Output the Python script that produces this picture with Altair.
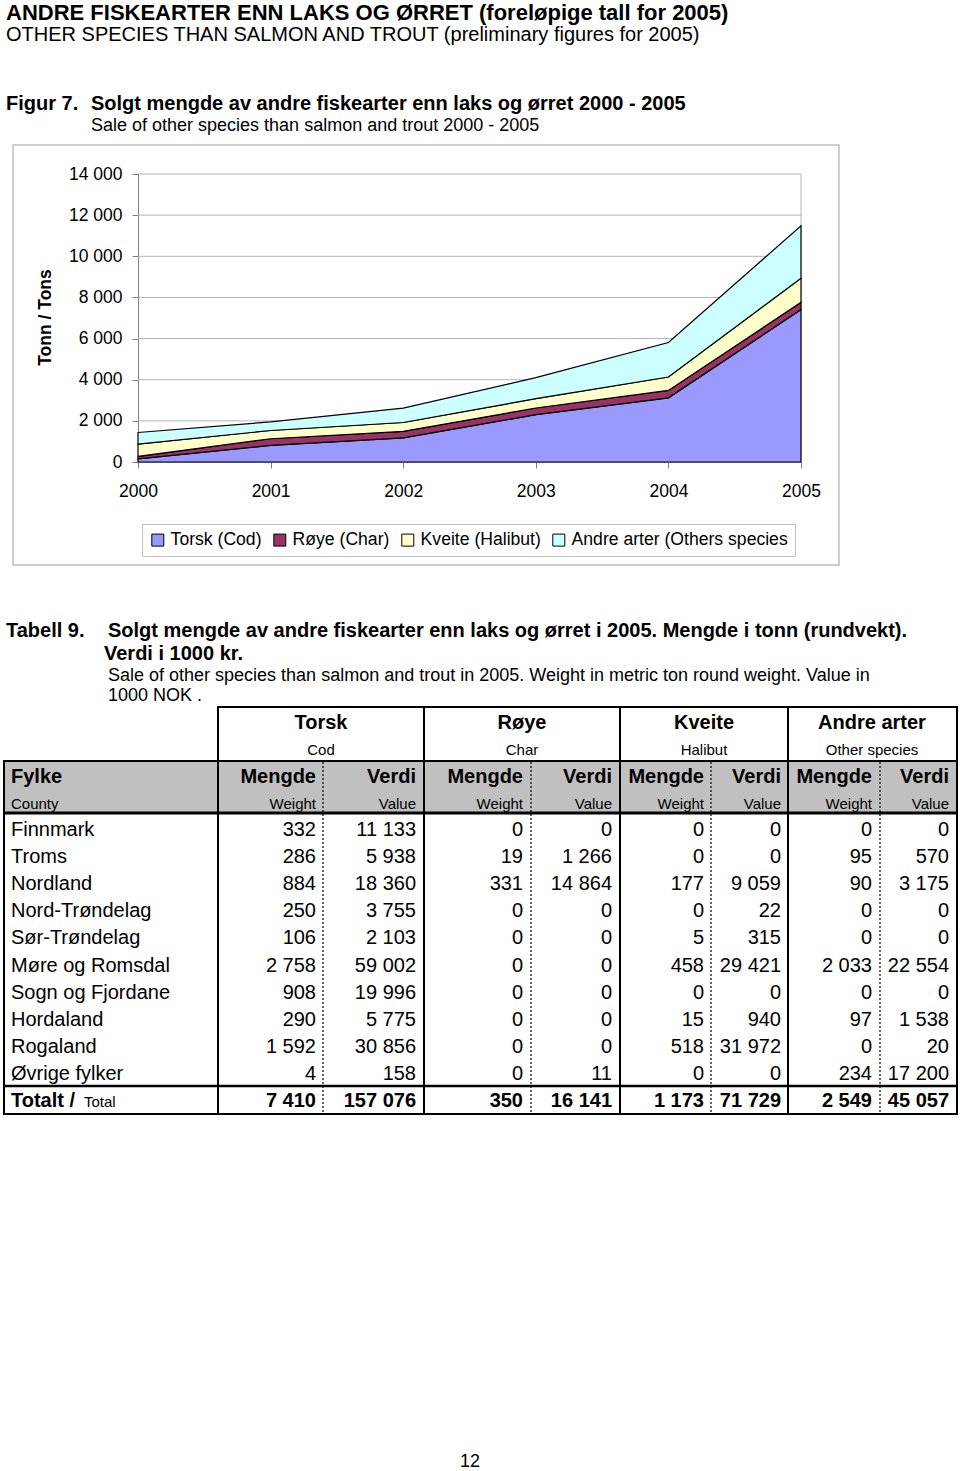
import altair as alt
import pandas as pd

FONT = "Liberation Sans"

# ----- figure data (tonnes) -----
years = [2000, 2001, 2002, 2003, 2004, 2005]
series_names = ["Torsk (Cod)", "Røye (Char)", "Kveite (Halibut)", "Andre arter (Others species"]
torsk_tonn = [150, 810, 1170, 2300, 3120, 7410]
roye_tonn = [120, 320, 320, 325, 360, 350]
kveite_tonn = [600, 400, 430, 455, 650, 1173]
andre_tonn = [565, 420, 700, 1020, 1680, 2549]
series_colors = ["#9999FF", "#993366", "#FFFFCC", "#CCFFFF"]
y_tick_values = [0, 2000, 4000, 6000, 8000, 10000, 12000, 14000]
y_title = "Tonn / Tons"

# ----- page texts -----
page_title_no = "ANDRE FISKEARTER ENN LAKS OG ØRRET (foreløpige tall for 2005)"
page_title_en = "OTHER SPECIES THAN SALMON AND TROUT (preliminary figures for 2005)"
fig_label = "Figur 7."
fig_title_no = "Solgt mengde av andre fiskearter enn laks og ørret 2000 - 2005"
fig_title_en = "Sale of other species than salmon and trout 2000 - 2005"
tab_label = "Tabell 9."
tab_title_no_1 = "Solgt mengde av andre fiskearter enn laks og ørret i 2005. Mengde i tonn (rundvekt)."
tab_title_no_2 = "Verdi i 1000 kr."
tab_title_en_1 = "Sale of other species than salmon and trout in 2005. Weight in metric ton round weight. Value in"
tab_title_en_2 = "1000 NOK ."
page_number = "12"

# ----- table data -----
group_no = ["Torsk", "Røye", "Kveite", "Andre arter"]
group_en = ["Cod", "Char", "Halibut", "Other species"]
fylke_head = ["Fylke", "County"]
mengde_head = ["Mengde", "Weight"]
verdi_head = ["Verdi", "Value"]
fylker = ["Finnmark", "Troms", "Nordland", "Nord-Trøndelag", "Sør-Trøndelag",
          "Møre og Romsdal", "Sogn og Fjordane", "Hordaland", "Rogaland", "Øvrige fylker"]
total_no = "Totalt /"
total_en = "Total"
torsk_mengde = [332, 286, 884, 250, 106, 2758, 908, 290, 1592, 4]
torsk_verdi = [11133, 5938, 18360, 3755, 2103, 59002, 19996, 5775, 30856, 158]
roye_mengde = [0, 19, 331, 0, 0, 0, 0, 0, 0, 0]
roye_verdi = [0, 1266, 14864, 0, 0, 0, 0, 0, 0, 11]
kveite_mengde = [0, 0, 177, 0, 5, 458, 0, 15, 518, 0]
kveite_verdi = [0, 0, 9059, 22, 315, 29421, 0, 940, 31972, 0]
andre_mengde = [0, 95, 90, 0, 0, 2033, 0, 97, 0, 234]
andre_verdi = [0, 570, 3175, 0, 0, 22554, 0, 1538, 20, 17200]
totals_mengde = [7410, 350, 1173, 2549]
totals_verdi = [157076, 16141, 71729, 45057]

# ---------------------------------------------------------------
one = pd.DataFrame({"k": [0]})


def fmt(n):
    return f"{n:,}".replace(",", " ")


def text_at(s, x, y, size, bold=False, align="left", baseline="alphabetic"):
    return alt.Chart(one).mark_text(
        text=s, font=FONT, fontSize=size, fontWeight="bold" if bold else "normal",
        align=align, baseline=baseline, color="black"
    ).encode(x=alt.value(x), y=alt.value(y))


def hline(x1, x2, y, w=2, color="black", dash=None):
    kw = dict(color=color, strokeWidth=w)
    if dash:
        kw["strokeDash"] = dash
    return alt.Chart(one).mark_rule(**kw).encode(x=alt.value(x1), x2=alt.value(x2), y=alt.value(y))


def vline(x, y1, y2, w=2, color="black", dash=None):
    kw = dict(color=color, strokeWidth=w)
    if dash:
        kw["strokeDash"] = dash
    return alt.Chart(one).mark_rule(**kw).encode(x=alt.value(x), y=alt.value(y1), y2=alt.value(y2))


layers = []

# ---------------- figure ----------------
layers.append(
    alt.Chart(one).mark_rect(fillOpacity=0, stroke="#bfbfbf", strokeWidth=1.5).encode(
        x=alt.value(13), x2=alt.value(839), y=alt.value(145), y2=alt.value(565))
)

xscale = alt.Scale(domain=[2000, 2005], range=[138, 801], nice=False, zero=False)
yscale = alt.Scale(domain=[0, 14000], range=[462, 174], nice=False)

layers.append(
    alt.Chart(pd.DataFrame({"tick": y_tick_values})).mark_rule(color="#b3b3b3", strokeWidth=1).encode(
        y=alt.Y("tick:Q", scale=yscale, axis=None), x=alt.value(138), x2=alt.value(801))
)
layers.append(vline(801, 174, 462, w=1, color="#b3b3b3"))

area_rows = []
for i, (name, vals) in enumerate(zip(series_names, [torsk_tonn, roye_tonn, kveite_tonn, andre_tonn])):
    for yr, v in zip(years, vals):
        area_rows.append({"year": yr, "tonn": v, "art": name, "idx": i})
df_area = pd.DataFrame(area_rows)

area = alt.Chart(df_area).mark_area(stroke="black", strokeWidth=1.2, interpolate="linear").encode(
    x=alt.X("year:Q", scale=xscale, axis=alt.Axis(
        orient="bottom", offset=-1009, values=years, format="d", labelFont=FONT, labelFontSize=17.5,
        labelColor="black", labelFlush=False, labelPadding=14, labelAngle=0, tickSize=6,
        tickColor="#808080", domainColor="#808080", grid=False, title=None)),
    y=alt.Y("tonn:Q", stack="zero", scale=yscale, axis=alt.Axis(
        orient="left", offset=-138, values=y_tick_values,
        labelExpr="replace(format(datum.value, ','), ',', ' ')",
        labelFont=FONT, labelFontSize=17.5, labelColor="black", labelPadding=10, tickSize=6,
        tickColor="#808080", domainColor="#808080", grid=False, title=y_title, titleFont=FONT,
        titleFontSize=17.5, titleFontWeight="bold", titleColor="black", titleAngle=270,
        titleX=-93, titleY=317, titleAlign="center", titleBaseline="middle")),
    color=alt.Color("art:N", scale=alt.Scale(domain=series_names, range=series_colors),
                    legend=alt.Legend(orient="none", legendX=142, legendY=524, direction="horizontal",
                                      title=None, symbolType="square", symbolSize=144,
                                      symbolStrokeColor="black", symbolStrokeWidth=1, symbolOpacity=1,
                                      labelFont=FONT, labelFontSize=17.6, labelColor="black",
                                      labelOffset=4, columnPadding=9, padding=7, labelLimit=400,
                                      rowPadding=0, strokeColor="#bfbfbf", fillColor="white")),
    order=alt.Order("idx:Q", sort="ascending"),
)
layers.append(area)

# ---------------- page texts ----------------
layers += [
    text_at(page_title_no, 6, 20, 22, bold=True),
    text_at(page_title_en, 6, 41, 20),
    text_at(fig_label, 6, 110, 20, bold=True),
    text_at(fig_title_no, 91, 110, 20, bold=True),
    text_at(fig_title_en, 91, 131, 18),
    text_at(tab_label, 6, 637, 20, bold=True),
    text_at(tab_title_no_1, 108, 637, 20, bold=True),
    text_at(tab_title_no_2, 104, 660, 20, bold=True),
    text_at(tab_title_en_1, 108, 681, 18),
    text_at(tab_title_en_2, 108, 701, 18),
    text_at(page_number, 470, 1462, 18, align="center", baseline="middle"),
]

# ---------------- table frame ----------------
layers.append(
    alt.Chart(one).mark_rect(fill="#c0c0c0").encode(
        x=alt.value(4), x2=alt.value(957), y=alt.value(761), y2=alt.value(813))
)
layers += [
    hline(218, 958, 707, 2),
    hline(3, 958, 761, 2),
    hline(3, 958, 813, 3),
    hline(3, 958, 1086, 2.5),
    hline(3, 958, 1114, 2),
    vline(4, 761, 1115, 2),
]
for xv in [218, 424, 620, 788, 957]:
    layers.append(vline(xv, 706, 1115, 2))
for xv in [323, 531, 711, 880]:
    layers.append(vline(xv, 762, 1113, 1.2, dash=[2, 2]))

# ---------------- table headers ----------------
group_centers = [321, 522, 704, 872]
mengde_x = [316, 523, 704, 872]
verdi_x = [416, 612, 781, 949]
for g_no, g_en, cx in zip(group_no, group_en, group_centers):
    layers.append(text_at(g_no, cx, 723, 20, bold=True, align="center", baseline="middle"))
    layers.append(text_at(g_en, cx, 750, 15, align="center", baseline="middle"))
layers.append(text_at(fylke_head[0], 11, 777, 20, bold=True, baseline="middle"))
layers.append(text_at(fylke_head[1], 11, 804, 15, baseline="middle"))
for mx, vx in zip(mengde_x, verdi_x):
    layers.append(text_at(mengde_head[0], mx, 777, 20, bold=True, align="right", baseline="middle"))
    layers.append(text_at(mengde_head[1], mx, 804, 15, align="right", baseline="middle"))
    layers.append(text_at(verdi_head[0], vx, 777, 20, bold=True, align="right", baseline="middle"))
    layers.append(text_at(verdi_head[1], vx, 804, 15, align="right", baseline="middle"))

# ---------------- table body ----------------
row_keys = fylker + ["Totalt"]
tbl = pd.DataFrame({
    "row": row_keys,
    "label": fylker + [total_no],
    "tm": [fmt(v) for v in torsk_mengde + [totals_mengde[0]]],
    "tv": [fmt(v) for v in torsk_verdi + [totals_verdi[0]]],
    "rm": [fmt(v) for v in roye_mengde + [totals_mengde[1]]],
    "rv": [fmt(v) for v in roye_verdi + [totals_verdi[1]]],
    "km": [fmt(v) for v in kveite_mengde + [totals_mengde[2]]],
    "kv": [fmt(v) for v in kveite_verdi + [totals_verdi[2]]],
    "am": [fmt(v) for v in andre_mengde + [totals_mengde[3]]],
    "av": [fmt(v) for v in andre_verdi + [totals_verdi[3]]],
})
row_scale = alt.Scale(type="point", domain=row_keys, range=[830, 1101], padding=0)
yrow = alt.Y("row:N", scale=row_scale, axis=None, sort=None)

cols = [("label", 11, "left"), ("tm", 316, "right"), ("tv", 416, "right"), ("rm", 523, "right"),
        ("rv", 612, "right"), ("km", 704, "right"), ("kv", 781, "right"), ("am", 872, "right"),
        ("av", 949, "right")]
for key, xp, al in cols:
    layers.append(
        alt.Chart(tbl).transform_filter(alt.datum.row != "Totalt").mark_text(
            font=FONT, fontSize=20, align=al, baseline="middle", color="black"
        ).encode(x=alt.value(xp), y=yrow, text=f"{key}:N")
    )
    layers.append(
        alt.Chart(tbl).transform_filter(alt.datum.row == "Totalt").mark_text(
            font=FONT, fontSize=20, fontWeight="bold", align=al, baseline="middle", color="black"
        ).encode(x=alt.value(xp), y=yrow, text=f"{key}:N")
    )
layers.append(text_at(total_en, 84, 1107, 15))

chart = alt.layer(*layers).resolve_scale(y="independent").properties(
    width=960, height=1471, padding=0, autosize=alt.AutoSizeParams(type="none")
).configure(background="white", font=FONT).configure_view(stroke="transparent")

chart.save("out.html", embed_options={"renderer": "svg", "actions": False})
